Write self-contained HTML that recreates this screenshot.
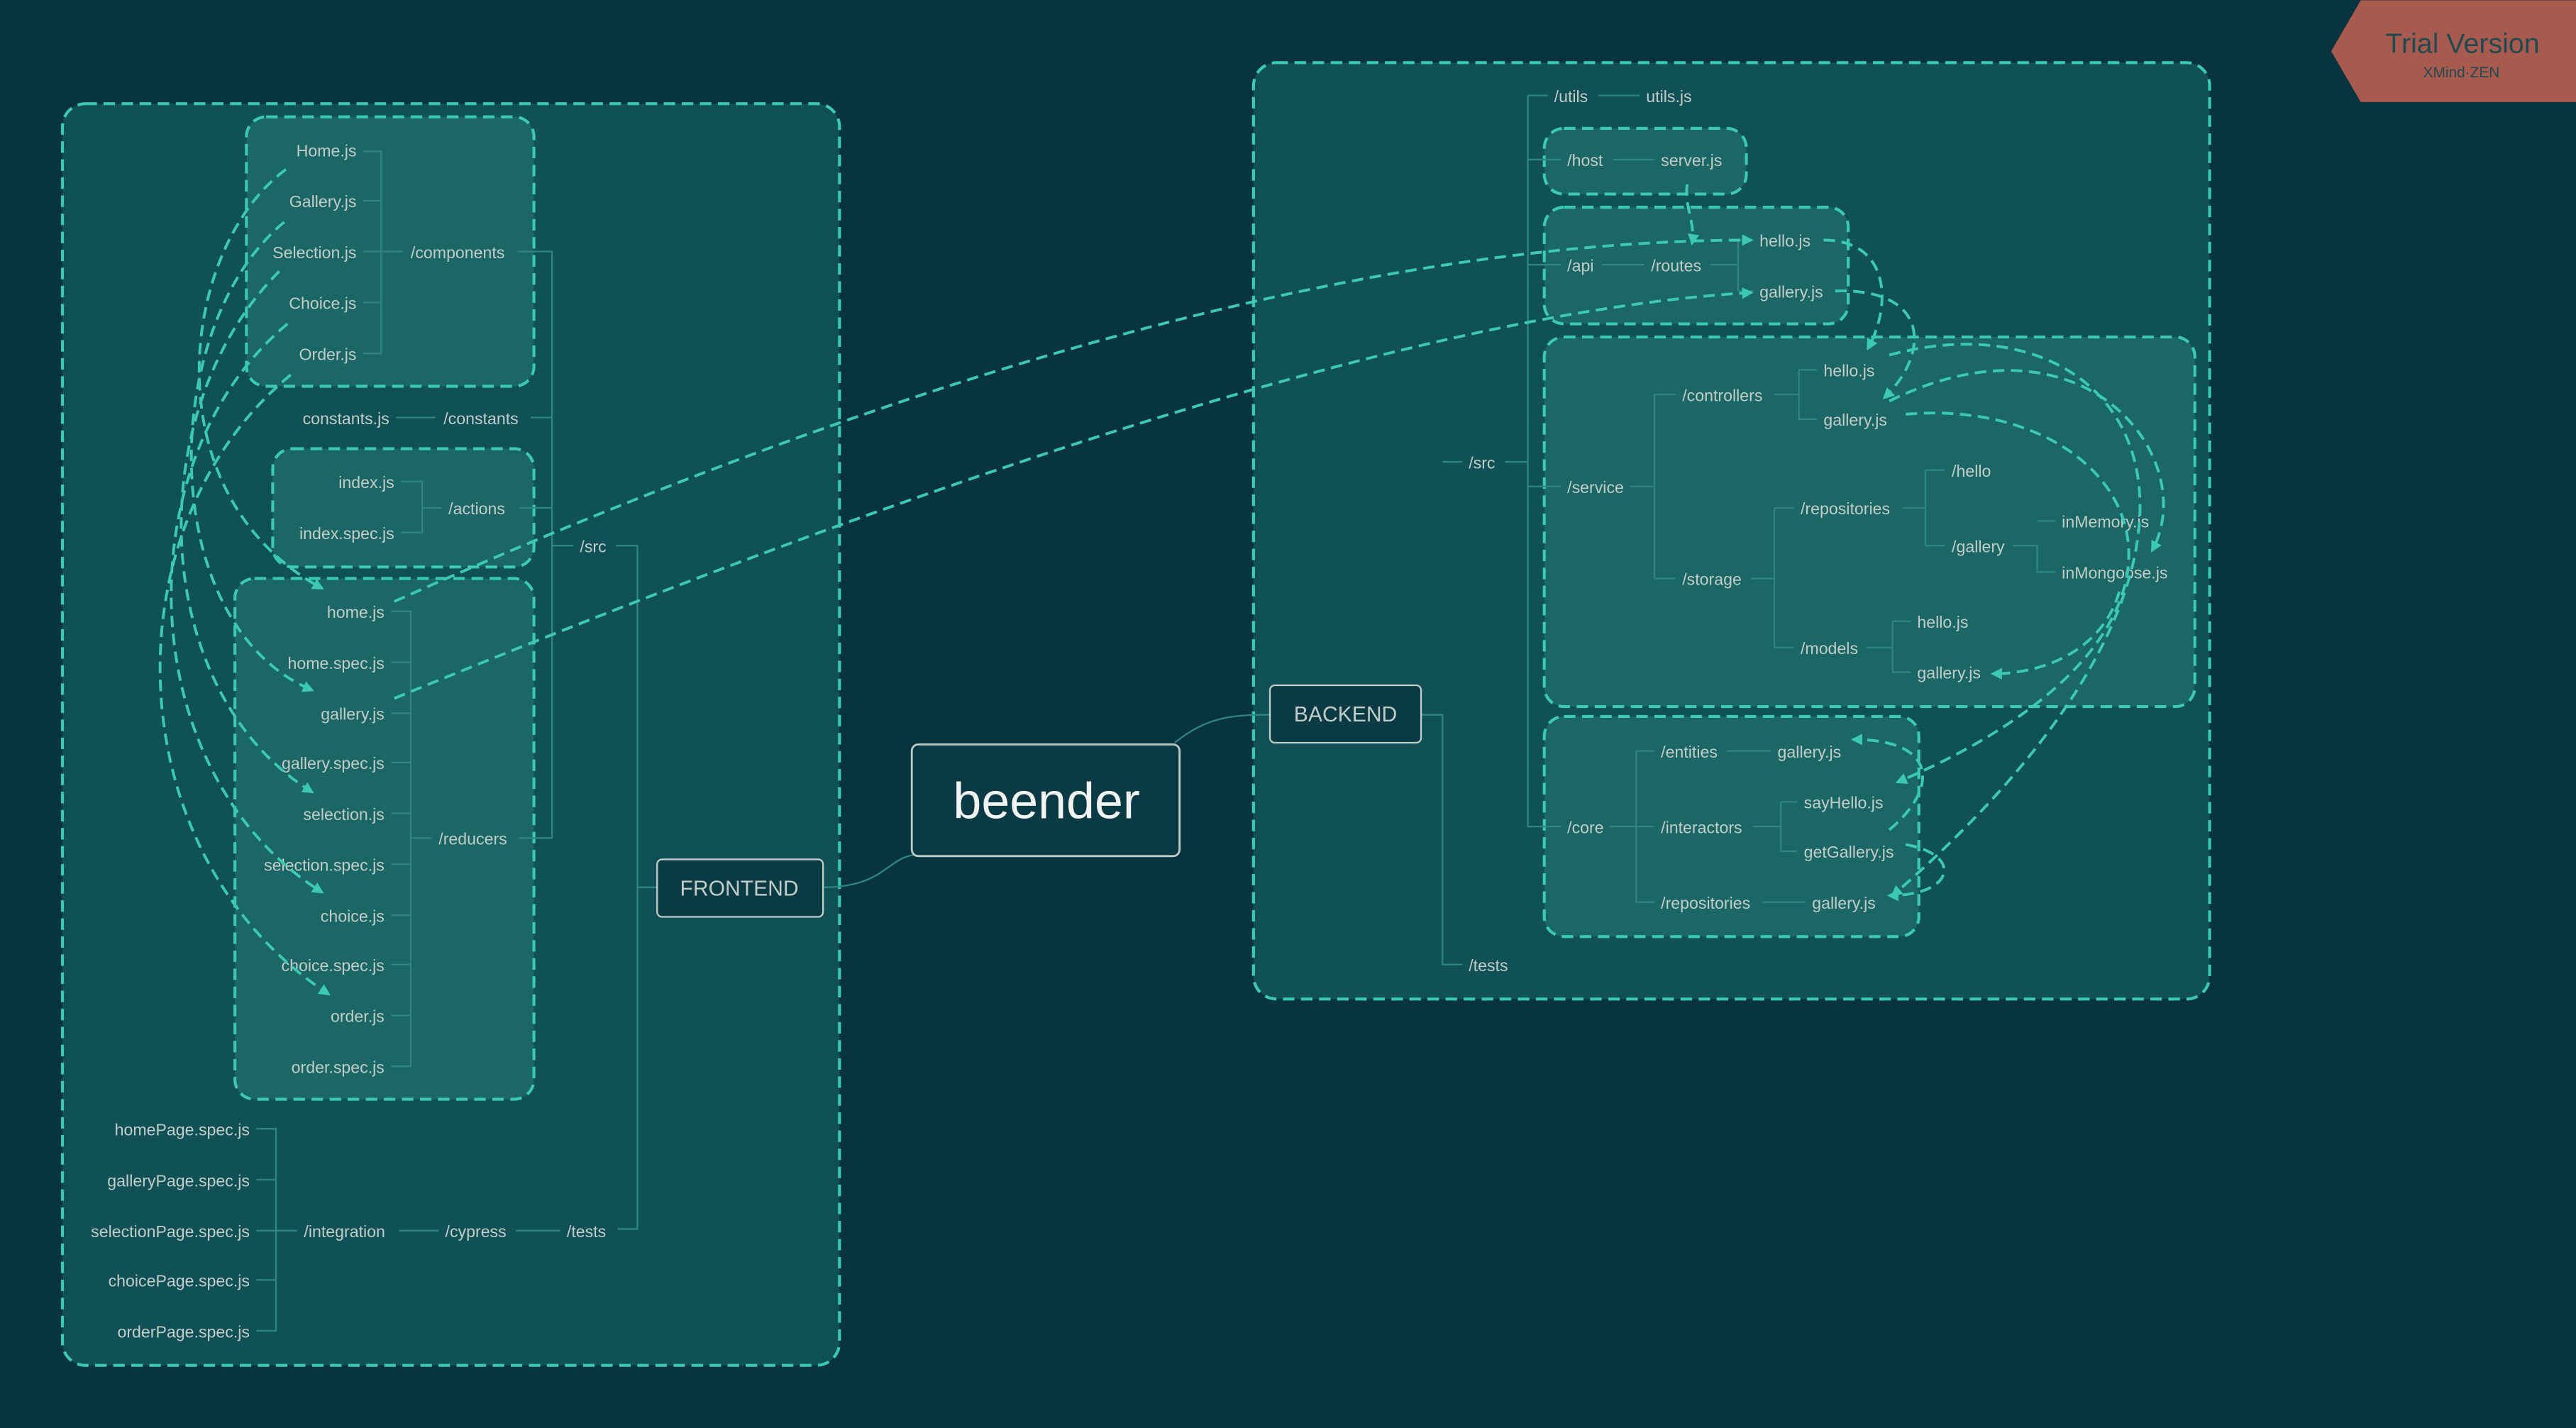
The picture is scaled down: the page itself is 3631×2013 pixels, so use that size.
<!DOCTYPE html>
<html><head><meta charset="utf-8"><style>
html,body{margin:0;padding:0;background:#08343f;}
svg{display:block}
text{font-family:"Liberation Sans",sans-serif;fill:#c2ccc8;font-size:10px}
</style></head><body>
<svg width="3631" height="2013" viewBox="0 0 1568 869" xmlns="http://www.w3.org/2000/svg">
<defs>
<marker id="a" viewBox="0 0 10 10" refX="8" refY="5" markerWidth="7" markerHeight="7" orient="auto" markerUnits="userSpaceOnUse"><path d="M0,0 L10,5 L0,10 z" fill="#3cc8b4"/></marker>
</defs>
<rect width="1568" height="869" fill="#08343f"/>
<!-- banner -->
<polygon points="1437,0 1568,0 1568,62 1437,62 1419,31" fill="#a85a4e"/>
<text x="1452" y="32" style="font-size:17px;fill:#1f4a50">Trial Version</text>
<text x="1475" y="47" style="font-size:9px;fill:#1f4a50">XMind·ZEN</text>

<g stroke="#3cc8b4" stroke-width="1.8" stroke-dasharray="7,4">
<rect x="38" y="63" width="473" height="768" rx="14" fill="#0f5157"/>
<rect x="763" y="38" width="582" height="570" rx="14" fill="#0f5157"/>
<rect x="150" y="71" width="175" height="164" rx="12" fill="#1a6766"/>
<rect x="166" y="273" width="159" height="72" rx="12" fill="#1a6766"/>
<rect x="143" y="352" width="182" height="317" rx="12" fill="#1a6766"/>
<rect x="940" y="78" width="123" height="40" rx="12" fill="#1a6766"/>
<rect x="940" y="126" width="185" height="71" rx="12" fill="#1a6766"/>
<rect x="940" y="205" width="396" height="225" rx="12" fill="#1a6766"/>
<rect x="940" y="436" width="228" height="134" rx="12" fill="#1a6766"/>
</g>

<!-- tree lines -->
<g stroke="#2f8580" stroke-width="1" fill="none">
<path d="M221,92 H232 V215 H221 M221,122 H232 M221,153 H245 M221,184 H232"/>
<path d="M315,153 H336 V510 H316 M323,254 H336 M316,309 H336 M336,332 H349"/>
<path d="M241,254 H265"/>
<path d="M244,293 H257 V324 H244 M257,309 H269"/>
<path d="M238,372 H250 V649 H238 M238,403 H250 M238,434 H250 M238,464 H250 M238,495 H250 M238,526 H250 M238,557 H250 M238,587 H250 M238,618 H250 M250,510 H263"/>
<path d="M375,332 H388 V748 H376 M388,540 H400"/>
<path d="M156,687 H168 V810 H156 M156,718 H168 M156,749 H181 M156,779 H168"/>
<path d="M243,749 H267 M314,749 H341"/>
<path d="M501,540 C540,540 540,520 560,520"/>
<path d="M715,452 C735,436 750,435 773,435"/>
<path d="M865,435 H878 V587 H890 M878,281 H890"/>
<path d="M916,281 H930 M930,58 V503 H950 M930,58 H942 M930,97 H950 M930,161 H950 M930,296 H950"/>
<path d="M973,58 H998 M982,97 H1007 M975,161 H1001 M1041,161 H1058 M1058,146 V177 M1058,146 H1067 M1058,177 H1067"/>
<path d="M992,296 H1007 M1007,240 V352 M1007,240 H1020 M1007,352 H1020 M1080,240 H1095 M1095,225 V255 H1106 M1095,225 H1106"/>
<path d="M1066,352 H1080 M1080,309 V394 H1092 M1080,309 H1092 M1158,309 H1172 M1172,286 V332 H1184 M1172,286 H1184 M1225,332 H1240 V348 H1251 M1240,317 H1251 M1136,394 H1152 M1152,378 V409 H1163 M1152,378 H1163"/>
<path d="M980,503 H996 M996,457 V549 H1007 M996,457 H1007 M996,503 H1007 M1051,457 H1078 M1067,503 H1084 M1084,488 V518 H1094 M1084,488 H1094 M1073,549 H1099"/>
</g>

<!-- nodes -->
<rect x="400" y="523" width="101" height="35" rx="3" fill="#0a3b44" stroke="#c2ccc8" stroke-width="1"/>
<text x="450" y="545" text-anchor="middle" style="font-size:13px">FRONTEND</text>
<rect x="555" y="453" width="163" height="68" rx="4" fill="#0a3b44" stroke="#c2ccc8" stroke-width="1.2"/>
<text x="637" y="498" text-anchor="middle" style="font-size:31px;fill:#f0f4f2">beender</text>
<rect x="773" y="417" width="92" height="35" rx="3" fill="#0a3b44" stroke="#c2ccc8" stroke-width="1"/>
<text x="819" y="439" text-anchor="middle" style="font-size:13px">BACKEND</text>

<!-- frontend labels -->
<g text-anchor="end">
<text x="217" y="95">Home.js</text><text x="217" y="126">Gallery.js</text><text x="217" y="157">Selection.js</text><text x="217" y="188">Choice.js</text><text x="217" y="219">Order.js</text>
<text x="237" y="258">constants.js</text>
<text x="240" y="297">index.js</text><text x="240" y="328">index.spec.js</text>
<text x="234" y="376">home.js</text><text x="234" y="407">home.spec.js</text><text x="234" y="438">gallery.js</text><text x="234" y="468">gallery.spec.js</text><text x="234" y="499">selection.js</text><text x="234" y="530">selection.spec.js</text><text x="234" y="561">choice.js</text><text x="234" y="591">choice.spec.js</text><text x="234" y="622">order.js</text><text x="234" y="653">order.spec.js</text>
<text x="152" y="691">homePage.spec.js</text><text x="152" y="722">galleryPage.spec.js</text><text x="152" y="753">selectionPage.spec.js</text><text x="152" y="783">choicePage.spec.js</text><text x="152" y="814">orderPage.spec.js</text>
</g>
<text x="250" y="157">/components</text>
<text x="270" y="258">/constants</text>
<text x="273" y="313">/actions</text>
<text x="353" y="336">/src</text>
<text x="267" y="514">/reducers</text>
<text x="185" y="753">/integration</text>
<text x="271" y="753">/cypress</text>
<text x="345" y="753">/tests</text>

<!-- backend labels -->
<text x="894" y="285">/src</text><text x="894" y="591">/tests</text>
<text x="946" y="62">/utils</text><text x="1002" y="62">utils.js</text>
<text x="954" y="101">/host</text><text x="1011" y="101">server.js</text>
<text x="954" y="165">/api</text><text x="1005" y="165">/routes</text>
<text x="1071" y="150">hello.js</text><text x="1071" y="181">gallery.js</text>
<text x="954" y="300">/service</text>
<text x="1024" y="244">/controllers</text><text x="1110" y="229">hello.js</text><text x="1110" y="259">gallery.js</text>
<text x="1024" y="356">/storage</text><text x="1096" y="313">/repositories</text>
<text x="1188" y="290">/hello</text><text x="1188" y="336">/gallery</text>
<text x="1255" y="321">inMemory.js</text><text x="1255" y="352">inMongoose.js</text>
<text x="1096" y="398">/models</text><text x="1167" y="382">hello.js</text><text x="1167" y="413">gallery.js</text>
<text x="954" y="507">/core</text>
<text x="1011" y="461">/entities</text><text x="1082" y="461">gallery.js</text>
<text x="1011" y="507">/interactors</text><text x="1098" y="492">sayHello.js</text><text x="1098" y="522">getGallery.js</text>
<text x="1011" y="553">/repositories</text><text x="1103" y="553">gallery.js</text>

<!-- dashed arrows -->
<g stroke="#3cc8b4" stroke-width="1.7" stroke-dasharray="7,4" fill="none" marker-end="url(#a)">
<path d="M174,103 C110,150 90,300 196,358"/>
<path d="M173,135 C95,200 95,380 190,420"/>
<path d="M170,165 C85,250 90,420 190,482"/>
<path d="M175,197 C75,280 80,470 196,543"/>
<path d="M177,228 C65,320 70,520 200,605"/>
<path d="M240,366 C500,250 800,146 1066,146"/>
<path d="M240,425 C520,310 850,190 1066,178"/>
<path d="M1027,112 C1025,125 1032,135 1030,148"/>
<path d="M1110,146 C1150,146 1152,185 1137,212"/>
<path d="M1117,177 C1175,175 1175,215 1147,242"/>
<path d="M1150,216 C1300,175 1400,330 1152,545"/>
<path d="M1150,244 C1270,185 1340,280 1310,335"/>
<path d="M1160,252 C1300,240 1380,380 1155,476"/>
<path d="M1290,360 C1280,395 1245,410 1213,410"/>
<path d="M1160,514 C1195,520 1190,545 1150,545"/>
<path d="M1150,505 C1180,480 1180,450 1128,450"/>
</g>
</svg>
</body></html>
